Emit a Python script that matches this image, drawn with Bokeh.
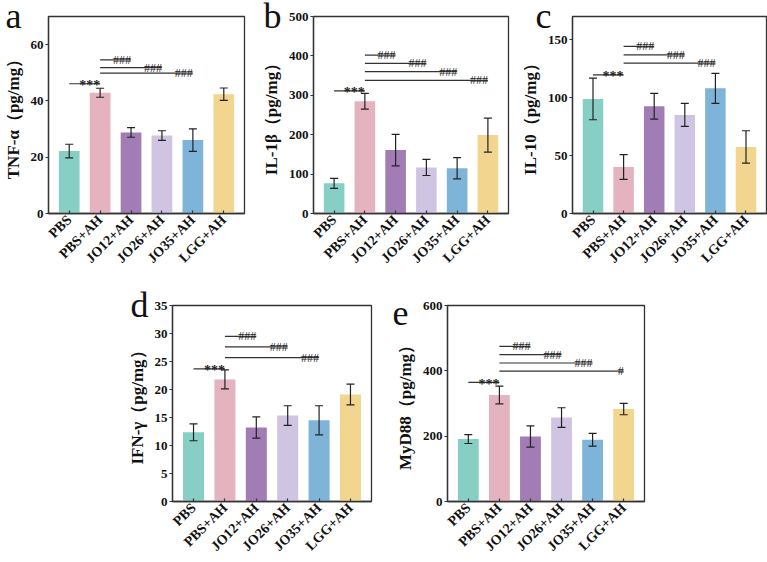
import math
from bokeh.plotting import figure
from bokeh.models import (ColumnDataSource, Title, FactorRange, Range1d,
                          Spacer, FixedTicker)
from bokeh.layouts import row, column
from bokeh.core.properties import value
from bokeh.embed import file_html
from bokeh.resources import INLINE

# Treatment groups and their bar colours
groups = ["PBS", "PBS+AH", "JO12+AH", "JO26+AH", "JO35+AH", "LGG+AH"]
colors = ["#87cfc4", "#e4b3bf", "#a27cb5", "#d0c4e3", "#7fb4d9", "#f2d68f"]

# Cytokine levels (mean, SD) in pg/mg
tnf_mean = [22.2, 42.9, 28.8, 27.7, 26.1, 42.4]
tnf_sd = [2.4, 1.6, 1.7, 1.7, 4.0, 2.2]
il1b_mean = [76.5, 285, 161, 117, 115, 199]
il1b_sd = [12.6, 20, 40, 20.5, 27, 43]
il10_mean = [98.9, 40.1, 92.6, 85.1, 108, 57.4]
il10_sd = [18, 10.7, 11.1, 10, 13, 14]
ifng_mean = [12.35, 21.8, 13.2, 15.35, 14.5, 19.1]
ifng_sd = [1.5, 1.7, 1.9, 1.75, 2.6, 1.85]
myd88_mean = [191, 326, 199, 257, 189, 283]
myd88_sd = [13.5, 27, 32.5, 30, 19.5, 17.5]

# Significance brackets: PBS vs PBS+AH (***), PBS+AH vs treatments (#)
tnf_star_y = 46.1
tnf_hash_y = [54.6, 51.8, 49.9]
tnf_hash_to = ["JO12+AH", "JO26+AH", "JO35+AH"]
tnf_hash_txt = ["###", "###", "###"]

il1b_star_y = 311
il1b_hash_y = [402, 381, 360, 338]
il1b_hash_to = ["JO12+AH", "JO26+AH", "JO35+AH", "LGG+AH"]
il1b_hash_txt = ["###", "###", "###", "###"]

il10_star_y = 119.7
il10_hash_y = [144.3, 136.9, 129.7]
il10_hash_to = ["JO12+AH", "JO26+AH", "JO35+AH"]
il10_hash_txt = ["###", "###", "###"]

ifng_star_y = 23.7
ifng_hash_y = [29.5, 27.6, 25.7]
ifng_hash_to = ["JO12+AH", "JO26+AH", "JO35+AH"]
ifng_hash_txt = ["###", "###", "###"]

myd88_star_y = 364.6
myd88_hash_y = [474.7, 449.5, 424, 399]
myd88_hash_to = ["JO12+AH", "JO26+AH", "JO35+AH", "LGG+AH"]
myd88_hash_txt = ["###", "###", "###", "#"]

SERIF = "Liberation Serif"
INK = "#222222"


def panel(letter, ylabel, means, sds, ymax, ticks, star_y, hash_y, hash_to, hash_txt,
          width, height, left, right, top, bottom, letter_dx):
    p = figure(width=width, height=height, x_range=FactorRange(*groups),
               y_range=Range1d(0, ymax), output_backend="svg", toolbar_location=None,
               min_border_left=left, min_border_right=right,
               min_border_top=top, min_border_bottom=bottom)
    p.x_range.range_padding = 0.17
    p.x_range.range_padding_units = "absolute"

    # panel letter: a thin title strip whose text hangs into the top-left margin
    p.add_layout(Title(text=letter, align="left", offset=letter_dx, standoff=-38,
                       text_font=SERIF, text_font_size="36px", text_font_style="normal",
                       text_color="#111111"), "above")

    src = ColumnDataSource(dict(
        g=groups, mean=means, color=colors,
        upper=[m + s for m, s in zip(means, sds)],
        lower=[m - s for m, s in zip(means, sds)],
    ))
    p.vbar(x="g", top="mean", width=0.67, fill_color="color", line_color=None, source=src)
    # error bars: stem plus short caps
    p.segment(x0="g", x1="g", y0="lower", y1="upper", line_color=INK, line_width=1.2,
              source=src)
    p.scatter(x="g", y="upper", marker="dash", size=8, line_color=INK, line_width=1.2,
              source=src)
    p.scatter(x="g", y="lower", marker="dash", size=8, line_color=INK, line_width=1.2,
              source=src)

    # *** bracket
    p.segment(x0=["PBS"], x1=["PBS+AH"], y0=[star_y], y1=[star_y],
              line_color="#333333", line_width=1.2)
    p.text(x=["PBS+AH"], y=[star_y], text=["***"], text_align="right",
           text_baseline="alphabetic", y_offset=2,
           text_font=value(SERIF), text_font_size="14px", text_font_style="bold",
           text_color=INK)
    # ### brackets
    n = len(hash_y)
    p.segment(x0=["PBS+AH"] * n, x1=hash_to, y0=hash_y, y1=hash_y,
              line_color="#333333", line_width=1.2)
    p.text(x=hash_to, y=hash_y, text=hash_txt, text_align="right",
           text_baseline="alphabetic", y_offset=0,
           text_font=value(SERIF), text_font_size="12px", text_color=INK)

    p.xgrid.visible = False
    p.ygrid.visible = False
    p.outline_line_color = "#333333"
    p.outline_line_width = 1.3
    p.outline_line_alpha = 1.0

    p.yaxis.ticker = FixedTicker(ticks=ticks)
    p.yaxis.axis_label = ylabel
    p.yaxis.axis_label_text_font = SERIF
    p.yaxis.axis_label_text_font_style = "bold"
    p.yaxis.axis_label_text_font_size = "17px"
    p.yaxis.axis_label_text_color = "#111111"
    p.yaxis.axis_label_standoff = 5
    p.yaxis.major_tick_in = 0
    p.yaxis.major_tick_out = 3
    p.yaxis.minor_tick_line_color = None
    p.yaxis.major_label_standoff = 2

    p.xaxis.major_label_orientation = math.pi / 4
    p.xaxis.major_tick_in = 3
    p.xaxis.major_tick_out = 0
    p.xaxis.major_label_standoff = 4

    for ax in (p.xaxis, p.yaxis):
        ax.axis_line_color = "#333333"
        ax.axis_line_width = 1.3
        ax.major_tick_line_color = "#333333"
        ax.major_tick_line_width = 1.2
        ax.major_label_text_font = SERIF
        ax.major_label_text_font_style = "bold"
        ax.major_label_text_color = "#111111"
    p.yaxis.major_label_text_font_size = "13px"
    p.xaxis.major_label_text_font_size = "14px"
    return p


pa = panel("a", "TNF-α（pg/mg）", tnf_mean, tnf_sd, 70, [0, 20, 40, 60],
           tnf_star_y, tnf_hash_y, tnf_hash_to, tnf_hash_txt,
           258, 280, 46, 14, 14, 67, -43)
pb = panel("b", "IL-1β（pg/mg）", il1b_mean, il1b_sd, 500, [0, 100, 200, 300, 400, 500],
           il1b_star_y, il1b_hash_y, il1b_hash_to, il1b_hash_txt,
           259, 280, 50, 9, 16, 64, -50)
pc = panel("c", "IL-10（pg/mg）", il10_mean, il10_sd, 170, [0, 50, 100, 150],
           il10_star_y, il10_hash_y, il10_hash_to, il10_hash_txt,
           250, 280, 50, 1, 14, 67, -37)
pd = panel("d", "IFN-γ（pg/mg）", ifng_mean, ifng_sd, 35, [0, 5, 10, 15, 20, 25, 30, 35],
           ifng_star_y, ifng_hash_y, ifng_hash_to, ifng_hash_txt,
           272, 282, 52, 21, 25, 58, -42)
pe = panel("e", "MyD88（pg/mg）", myd88_mean, myd88_sd, 600, [0, 200, 400, 600],
           myd88_star_y, myd88_hash_y, myd88_hash_to, myd88_hash_txt,
           262, 282, 53, 10, 25, 58, -55)

layout = column(row(pa, pb, pc), row(Spacer(width=120, height=282), pd, pe))

open("out.html", "w").write(file_html(layout, INLINE))
